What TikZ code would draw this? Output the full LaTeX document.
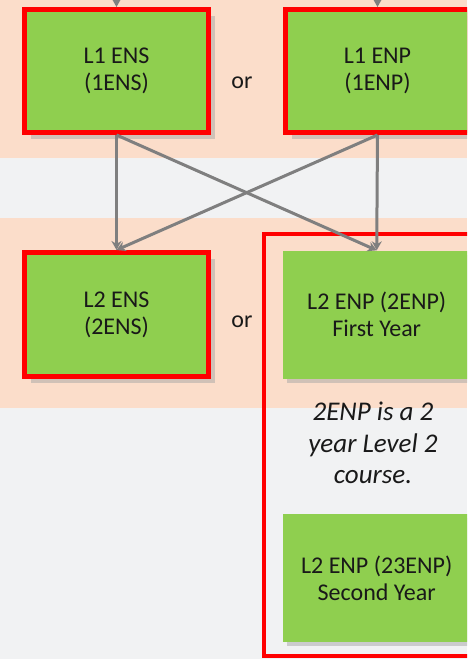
\documentclass[tikz,border=0pt]{standalone}
\usepackage{fontspec}
\setmainfont{Carlito}
\usetikzlibrary{positioning}
\usetikzlibrary{shadows}
\usetikzlibrary{arrows.meta}

\definecolor{peach}{HTML}{FBDDCA}
\definecolor{paleband}{HTML}{F1F2F3}
\definecolor{boxgreen}{HTML}{8FCF4F}
\definecolor{linkgray}{HTML}{7F7F7F}

\tikzset{
  course/.style={fill=boxgreen, inner sep=0pt, align=center, text=black!90,
    font=\fontsize{24}{27}\selectfont},
  chosen/.style={course, draw=red, line width=5pt, minimum width=184pt, minimum height=123pt,
    drop shadow={shadow xshift=6pt, shadow yshift=-6pt, fill=black!35, opacity=.5}},
  plaincourse/.style={course, minimum width=187pt, minimum height=128pt,
    drop shadow={shadow xshift=4pt, shadow yshift=-4pt, fill=black!35, opacity=.5}},
  ortext/.style={font=\fontsize{24}{27}\selectfont, text=black!90},
  note/.style={align=center, text=black!90, font=\itshape\fontsize{27}{31.5}\selectfont},
  link/.style={draw=linkgray, line width=3pt, -{Stealth[length=9pt,width=10pt]}},
}

\begin{document}
\begin{tikzpicture}[x=1pt, y=-1pt]
  \useasboundingbox (0,0) rectangle (467,659);
  \clip (0,0) rectangle (467,659);

  % Bands
  \fill[paleband] (0,0) rectangle (467,659);
  \fill[peach] (0,0) rectangle (467,158);
  \fill[peach] (0,218) rectangle (467,408);

  % Define nodes
  \node[chosen]                          (l1ens) at (116.5,71) {L1 ENS\\(1ENS)};
  \node[chosen, right=72pt of l1ens]     (l1enp) {L1 ENP\\(1ENP)};
  \node[ortext]                          (or1) at (242,83) {or};
  \node[chosen, below=115pt of l1ens, minimum height=124pt] (l2ens) {L2 ENS\\(2ENS)};
  \node[plaincourse, right=72pt of l2ens] (l2enpa) {L2 ENP (2ENP)\\First Year};
  \node[ortext]                          (or2) at (242,322) {or};
  \node[note]                            (span) at (373,443) {2ENP is a 2\\year Level 2\\course.};
  \node[plaincourse, below=135pt of l2enpa] (l2enpb) {L2 ENP (23ENP)\\Second Year};
  \coordinate (inens) at (116.5,-2);
  \coordinate (inenp) at (377.5,-2);

  % Frame round the two year course
  \draw[red, line width=4pt] (264,234) rectangle (490,656);

  % Connect the nodes
  \draw[link] (inens) -- (l1ens);
  \draw[link] (inenp) -- (l1enp);
  \draw[link] (l1ens.south) -- (l2ens.north);
  \draw[link] (l1ens.south) -- (l2enpa.north);
  \draw[link] (l1enp.south) -- (l2ens.north);
  \draw[link] (l1enp.south) -- (l2enpa.north);

\end{tikzpicture}
\end{document}
